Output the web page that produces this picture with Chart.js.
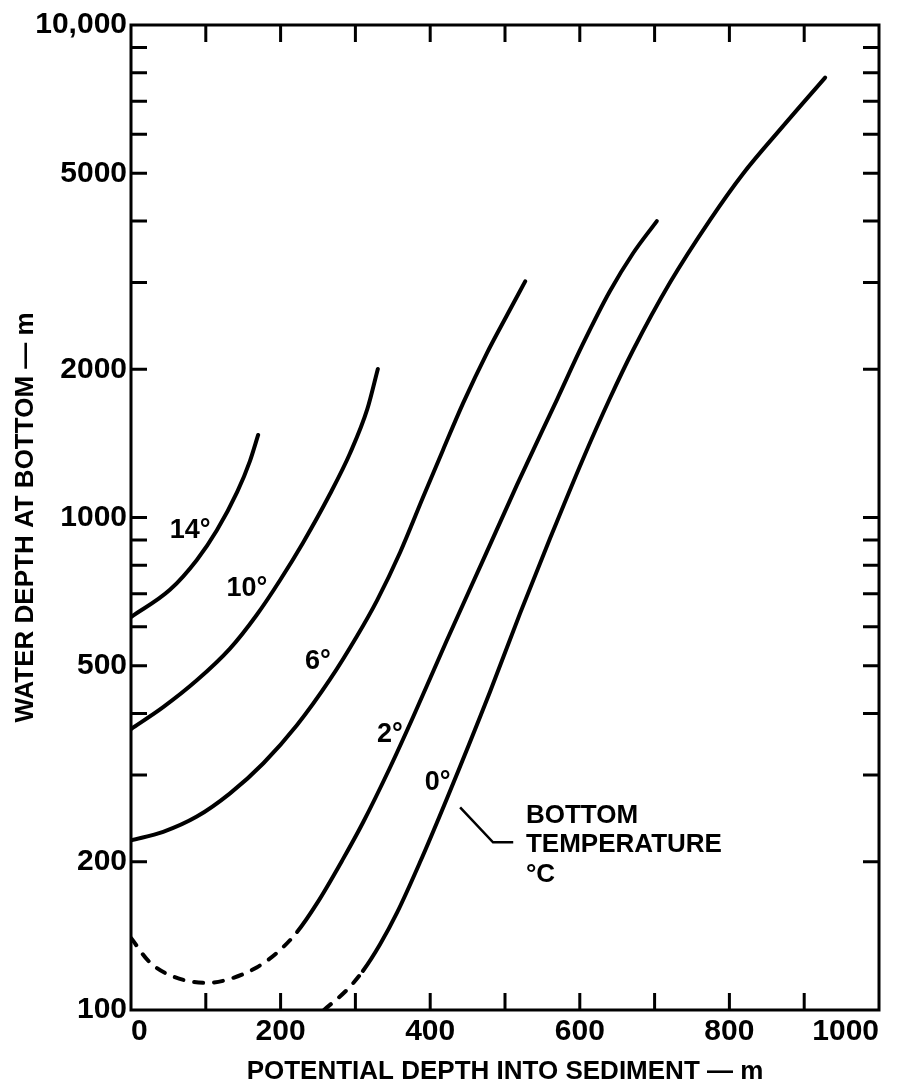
<!DOCTYPE html>
<html>
<head>
<meta charset="utf-8">
<title>Water depth vs potential depth into sediment</title>
<script src="https://cdn.jsdelivr.net/npm/chart.js@4.4.1/dist/chart.umd.min.js"></script>
<style>
  html, body { margin: 0; padding: 0; background: #fff; }
  canvas { display: block; }
</style>
</head>
<body>
<canvas id="chart" width="899" height="1088"></canvas>
<script>
// curves: x = potential depth into sediment (m), y = water depth (m)
const x14 = [0, 52, 88, 115, 142, 159, 170];
const y14 = [628, 713, 820, 943, 1127, 1302, 1471];

const x10 = [0, 43, 88, 132, 168, 199, 230, 266, 293, 316, 330];
const y10 = [372, 412, 467, 541, 634, 745, 889, 1116, 1352, 1661, 2002];

const x6 = [0, 43, 88, 132, 177, 222, 266, 302, 329, 360, 390, 417, 444, 476, 503, 527];
const y6 = [221, 230, 247, 275, 317, 379, 469, 574, 679, 851, 1095, 1370, 1707, 2160, 2581, 3016];

const x2 = [0, 25, 56, 102, 132, 168, 195, 222, 249, 283, 310, 346, 377, 422, 471, 516, 570, 604, 640, 671, 703];
const y2 = [140, 125, 117, 113.5, 115.6, 122, 130.6, 144, 165, 202, 240, 310, 393, 562, 821, 1165, 1742, 2248, 2876, 3436, 3998];

const x0 = [258, 289, 310, 333, 356, 386, 422, 480, 520, 560, 604, 640, 671, 721, 774, 818, 872, 928];
const y0 = [100, 110, 120, 136, 158, 199, 268, 443, 638, 905, 1312, 1742, 2183, 3006, 4017, 4984, 6239, 7821];

// the estimated (dashed) parts end here
const dashEnd2 = 222;
const dashEnd0 = 310;

const yTicks = [100, 200, 300, 400, 500, 600, 700, 800, 900, 1000, 2000, 3000, 4000, 5000, 6000, 7000, 8000, 9000, 10000];
const yLabels = [100, 200, 500, 1000, 2000, 5000, 10000];
const xLabels = [0, 200, 400, 600, 800, 1000];

const curveNames = ['14°', '10°', '6°', '2°', '0°'];
const nameX = [79, 155, 250, 346, 410];
const nameY = [939, 716, 509, 362, 289];

const noteLines = ['BOTTOM', 'TEMPERATURE', '°C'];
const noteAt = { x: 528, y: 240 };
const leaderX = [440, 484, 511];
const leaderY = [258, 219, 219];

const FONT = '"Liberation Sans", Arial, Helvetica, sans-serif';

const toPoints = (xs, ys) => xs.map((v, i) => ({ x: v, y: ys[i] }));

const dashedUntil = (limit) => ({
    borderDash: ctx => ctx.p1.parsed.x <= limit ? [9, 11] : undefined,
});

const lineStyle = {
    borderColor: '#000',
    borderWidth: 4,
    borderCapStyle: 'round',
    borderJoinStyle: 'round',
    pointRadius: 0,
    cubicInterpolationMode: 'monotone',
    fill: false,
};

// frame with inward ticks, curve names and the note
const decorations = {
    id: 'decorations',
    afterDatasetsDraw(chart) {
        const { ctx, chartArea: a, scales: { x, y } } = chart;
        ctx.save();
        ctx.strokeStyle = '#000';
        ctx.lineWidth = 3;
        ctx.lineCap = 'butt';
        ctx.strokeRect(a.left, a.top, a.right - a.left, a.bottom - a.top);

        ctx.beginPath();
        x.ticks.forEach(t => {
            if (t.value <= x.min || t.value >= x.max) return;
            const px = x.getPixelForValue(t.value);
            ctx.moveTo(px, a.bottom); ctx.lineTo(px, a.bottom - 17);
            ctx.moveTo(px, a.top); ctx.lineTo(px, a.top + 17);
        });
        y.ticks.forEach(t => {
            if (t.value <= y.min || t.value >= y.max) return;
            const py = y.getPixelForValue(t.value);
            ctx.moveTo(a.left, py); ctx.lineTo(a.left + 16, py);
            ctx.moveTo(a.right, py); ctx.lineTo(a.right - 16, py);
        });
        ctx.stroke();

        ctx.fillStyle = '#000';
        ctx.font = 'bold 27px ' + FONT;
        ctx.textAlign = 'center';
        ctx.textBaseline = 'middle';
        curveNames.forEach((s, i) => {
            ctx.fillText(s, x.getPixelForValue(nameX[i]), y.getPixelForValue(nameY[i]));
        });

        ctx.font = 'bold 26px ' + FONT;
        ctx.textAlign = 'left';
        ctx.textBaseline = 'alphabetic';
        const nx = x.getPixelForValue(noteAt.x);
        const ny = y.getPixelForValue(noteAt.y);
        noteLines.forEach((s, i) => ctx.fillText(s, nx, ny + i * 29.5));

        ctx.lineWidth = 2.5;
        ctx.beginPath();
        leaderX.forEach((v, i) => {
            const px = x.getPixelForValue(v), py = y.getPixelForValue(leaderY[i]);
            if (i === 0) ctx.moveTo(px, py); else ctx.lineTo(px, py);
        });
        ctx.stroke();
        ctx.restore();
    }
};

Chart.defaults.font.family = FONT;
Chart.defaults.color = '#000';

new Chart(document.getElementById('chart'), {
    type: 'line',
    data: {
        datasets: [
            { label: '14°', data: toPoints(x14, y14), ...lineStyle },
            { label: '10°', data: toPoints(x10, y10), ...lineStyle },
            { label: '6°', data: toPoints(x6, y6), ...lineStyle },
            { label: '2°', data: toPoints(x2, y2), ...lineStyle, segment: dashedUntil(dashEnd2) },
            { label: '0°', data: toPoints(x0, y0), ...lineStyle, segment: dashedUntil(dashEnd0) },
        ],
    },
    options: {
        responsive: false,
        animation: false,
        layout: { padding: { top: 25, right: 20, bottom: 0, left: 0 } },
        plugins: {
            legend: { display: false },
            tooltip: { enabled: false },
        },
        scales: {
            x: {
                type: 'linear',
                min: 0,
                max: 1000,
                grid: { display: false, drawTicks: false },
                border: { display: false },
                ticks: {
                    stepSize: 100,
                    autoSkip: false,
                    maxRotation: 0,
                    align: 'inner',
                    padding: 4,
                    font: { size: 30, weight: 'bold' },
                    callback: v => xLabels.includes(v) ? String(v) : '',
                },
                title: {
                    display: true,
                    text: 'POTENTIAL DEPTH INTO SEDIMENT — m',
                    font: { size: 26, weight: 'bold' },
                    padding: { top: 0, bottom: 1 },
                },
                afterFit: s => { s.height = 78; s.paddingLeft = 0; s.paddingRight = 0; },
            },
            y: {
                type: 'logarithmic',
                min: 100,
                max: 10000,
                grid: { display: false, drawTicks: false },
                border: { display: false },
                afterBuildTicks: s => { s.ticks = yTicks.map(v => ({ value: v })); },
                ticks: {
                    autoSkip: false,
                    padding: 4,
                    font: { size: 30, weight: 'bold' },
                    callback: v => yLabels.includes(v) ? (v === 10000 ? '10,000' : String(v)) : '',
                },
                title: {
                    display: true,
                    text: 'WATER DEPTH AT BOTTOM — m',
                    font: { size: 26, weight: 'bold' },
                    padding: { top: 10, bottom: 0 },
                },
                afterFit: s => { s.width = 131; s.paddingTop = 0; s.paddingBottom = 0; },
            },
        },
    },
    plugins: [decorations],
});
</script>
</body>
</html>
